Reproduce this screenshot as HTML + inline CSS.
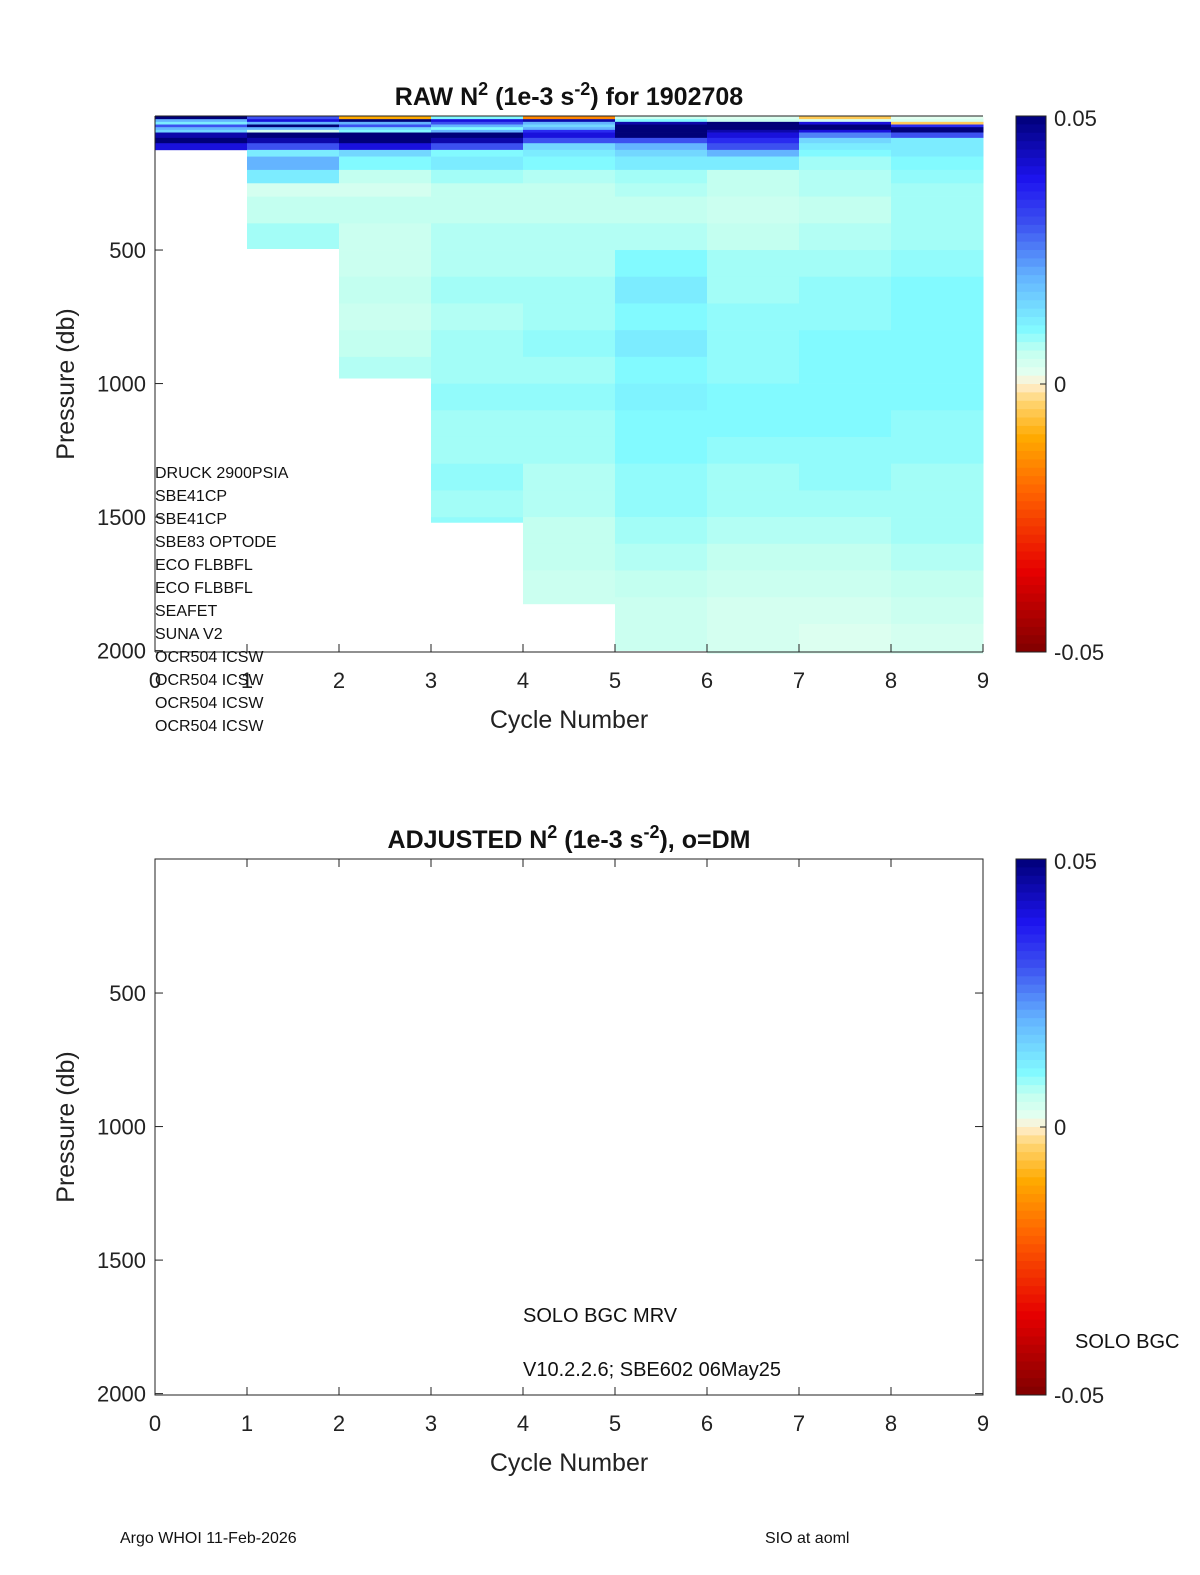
<!DOCTYPE html>
<html><head><meta charset="utf-8"><style>
html,body{margin:0;padding:0;background:#fff;overflow:hidden;width:1200px;height:1575px}
svg{display:block;font-family:"Liberation Sans","DejaVu Sans",sans-serif}
</style></head><body>
<svg id="fig" width="1200" height="1575" viewBox="0 0 1200 1575" xmlns="http://www.w3.org/2000/svg">
<g id="topPanel"></g>
<g id="botPanel"></g>
<text x="120" y="1543" font-size="16" fill="#111">Argo WHOI 11-Feb-2026</text>
<text x="765" y="1543" font-size="16" fill="#111">SIO at aoml</text>
</svg>
<script>
const cycles = [0,1,2,3,4,5,6,7,8];
const levels = [0,10,20,30,40,50,60,80,100,125,150,200,250,300,400,500,600,700,800,900,1000,1100,1200,1300,1400,1500,1600,1700,1800,1900,2010];
const maxP = [125,495,980,1520,1825,2000,2010,2010,2010];
const col0 = [0.05,0.02,0.012,0.03,0.02,0.015,0.045,0.05,0.04,0.006,0.006,0.006,0.006,0.006,0.006,0.006,0.006,0.006,0.006,0.006,0.006,0.006,0.006,0.006,0.006,0.006,0.006,0.006,0.006,0.006];
const col1 = [0.03,0.04,0.02,0.05,0.02,0.004,0.05,0.045,0.03,0.012,0.02,0.012,0.004,0.006,0.008,0.007,0.007,0.007,0.007,0.007,0.007,0.007,0.007,0.007,0.007,0.007,0.007,0.007,0.007,0.007];
const col2 = [-0.01,0.05,0.02,0.03,0.015,0.01,0.05,0.05,0.04,0.015,0.01,0.006,0.004,0.006,0.005,0.005,0.006,0.005,0.006,0.007,0.007,0.007,0.007,0.007,0.007,0.007,0.007,0.007,0.007,0.007];
const col3 = [0.01,0.04,0.03,0.02,0.01,0.02,0.05,0.045,0.03,0.01,0.012,0.008,0.006,0.006,0.007,0.007,0.008,0.007,0.008,0.008,0.009,0.008,0.008,0.009,0.008,0.009,0.008,0.008,0.008,0.008];
const col4 = [-0.015,0.045,0.02,0.015,0.02,0.035,0.04,0.03,0.015,0.012,0.01,0.007,0.006,0.006,0.007,0.007,0.008,0.008,0.009,0.008,0.009,0.008,0.008,0.007,0.007,0.006,0.006,0.005,0.005,0.005];
const col5 = [0.005,0.01,0.045,0.05,0.05,0.05,0.05,0.03,0.02,0.015,0.012,0.008,0.007,0.006,0.007,0.01,0.012,0.01,0.012,0.01,0.011,0.01,0.01,0.009,0.009,0.008,0.007,0.006,0.005,0.005];
const col6 = [0.003,0.005,0.05,0.05,0.05,0.045,0.04,0.035,0.03,0.02,0.012,0.006,0.006,0.005,0.006,0.008,0.008,0.009,0.009,0.009,0.01,0.01,0.009,0.008,0.008,0.007,0.006,0.005,0.004,0.004];
const col7 = [-0.005,0.004,0.04,0.05,0.05,0.04,0.025,0.015,0.012,0.01,0.008,0.007,0.007,0.006,0.007,0.008,0.009,0.009,0.01,0.01,0.01,0.01,0.009,0.009,0.008,0.007,0.006,0.005,0.004,0.003];
const col8 = [0.002,0.004,-0.005,0.035,0.05,0.05,0.03,0.012,0.012,0.012,0.01,0.009,0.008,0.008,0.008,0.009,0.01,0.01,0.01,0.01,0.01,0.009,0.009,0.008,0.008,0.008,0.007,0.006,0.005,0.004];
const columns = [col0,col1,col2,col3,col4,col5,col6,col7,col8];
const xTicks = [0,1,2,3,4,5,6,7,8,9];
const yTicks = [500,1000,1500,2000];
const instruments = ["DRUCK 2900PSIA","SBE41CP","SBE41CP","SBE83 OPTODE","ECO FLBBFL","ECO FLBBFL","SEAFET","SUNA V2","OCR504 ICSW","OCR504 ICSW","OCR504 ICSW","OCR504 ICSW"];

const NS="http://www.w3.org/2000/svg";
const L=155,R=983,W=R-L,H=536;
const xs=c=>L+c/9*W;
const stops=[[0,[128,0,0]],[0.15,[230,0,0]],[0.3,[255,100,0]],[0.4,[255,170,0]],[0.47,[255,215,120]],[0.5,[255,240,210]],[0.52,[228,255,240]],[0.56,[195,255,240]],[0.6,[130,250,255]],[0.7,[100,180,255]],[0.8,[60,80,240]],[0.88,[30,20,240]],[1,[0,0,120]]];
function cmap(v){let t=Math.max(0,Math.min(1,(v+0.05)/0.1));for(let i=1;i<stops.length;i++){if(t<=stops[i][0]){const a=stops[i-1],b=stops[i];const f=(t-a[0])/(b[0]-a[0]);const c=a[1].map((x,k)=>Math.round(x+(b[1][k]-x)*f));return `rgb(${c})`;}}return 'rgb(0,0,120)';}
function el(p,tag,attrs,txt){const e=document.createElementNS(NS,tag);for(const k in attrs)e.setAttribute(k,attrs[k]);if(txt!=null)e.textContent=txt;p.appendChild(e);return e;}

function panel(g,T,title,withData){
  const ys=p=>T+0.5+p/2007*H;
  if(withData){
    cycles.forEach((c,ci)=>{
      const vals=columns[ci];
      for(let i=0;i<vals.length;i++){
        const p0=levels[i];let p1=Math.min(levels[i+1],maxP[ci]);
        if(p0>=maxP[ci])break;
        const r=el(g,'rect',{x:xs(c),y:ys(p0),width:xs(c+1)-xs(c)+0.5,height:ys(p1)-ys(p0)+0.3,fill:cmap(vals[i])});
        
        
      }
    });
  }
  const box=el(g,'rect',{x:L,y:T,width:W,height:H,fill:'none',stroke:withData?'none':'#222','stroke-width':1});
  
  
  el(g,'line',{x1:L,y1:T,x2:L,y2:T+H,stroke:'#222'});
  el(g,'line',{x1:L,y1:T+H,x2:R,y2:T+H,stroke:'#222'});
  el(g,'line',{x1:L,y1:T,x2:R,y2:T,stroke:'#222'});
  xTicks.forEach(t=>{
    el(g,'line',{x1:xs(t),y1:T+H,x2:xs(t),y2:T+H-8,stroke:'#222'});
    if(!withData)el(g,'line',{x1:xs(t),y1:T,x2:xs(t),y2:T+8,stroke:'#222'});
    const tx=el(g,'text',{x:xs(t),y:T+H+36,'font-size':22,'text-anchor':'middle',fill:'#222'},String(t));
    
    
  });
  yTicks.forEach(t=>{
    el(g,'line',{x1:L,y1:ys(t),x2:L+8,y2:ys(t),stroke:'#222'});
    if(!withData)el(g,'line',{x1:R,y1:ys(t),x2:R-8,y2:ys(t),stroke:'#222'});
    const tx=el(g,'text',{x:146,y:ys(t)+8,'font-size':22,'text-anchor':'end',fill:'#222'},String(t));
    
    
  });
  const xl=el(g,'text',{x:569,y:T+H+76,'font-size':25,'text-anchor':'middle',fill:'#222'},'Cycle Number');
  
  
  const yl=el(g,'text',{x:0,y:0,'font-size':25,'text-anchor':'middle',fill:'#222',transform:`translate(74,${T+268}) rotate(-90)`},'Pressure (db)');
  
  
  const tt=el(g,'text',{x:569,y:T-11,'font-size':25,'font-weight':'bold','text-anchor':'middle',fill:'#111'});
  
  
  title.forEach(([s,sup])=>{if(sup){el(tt,'tspan',{dy:-10,'font-size':18},s);el(tt,'tspan',{dy:10},'\u200b');}else{el(tt,'tspan',{},s);}});
  const cb=el(g,'g',{});
  
  
  const n=64,cx=1016,cw=30;
  for(let i=0;i<n;i++){const v=0.05-(i+0.5)/n*0.1;el(cb,'rect',{x:cx,y:T+i*H/n,width:cw,height:H/n+0.5,fill:cmap(v)});}
  el(cb,'rect',{x:cx,y:T,width:cw,height:H,fill:'none',stroke:'#222'});
  el(cb,'line',{x1:cx+cw,y1:T+H/2,x2:cx+cw-6,y2:T+H/2,stroke:'#222'});
  [['0.05',T+10],['0',T+H/2+8],['-0.05',T+H+8]].forEach(([s,y])=>{const t=el(cb,'text',{x:1054,y:y,'font-size':22,fill:'#222'},s);});
}
const topG=document.getElementById('topPanel');
const botG=document.getElementById('botPanel');
panel(topG,116,[['RAW N'],['2',1],[' (1e-3 s'],['-2',1],[') for 1902708']],true);
panel(botG,859,[['ADJUSTED N'],['2',1],[' (1e-3 s'],['-2',1],['), o=DM']],false);
instruments.forEach((s,i)=>{const t=el(topG,'text',{x:155,y:478+i*23,'font-size':16,fill:'#111'},s);});
[['SOLO BGC MRV',523,1322],['V10.2.2.6; SBE602 06May25',523,1376],['SOLO BGC',1075,1348]].forEach(([s,x,y])=>{const t=el(botG,'text',{x:x,y:y,'font-size':20,fill:'#111'},s);});
</script>
</body></html>
